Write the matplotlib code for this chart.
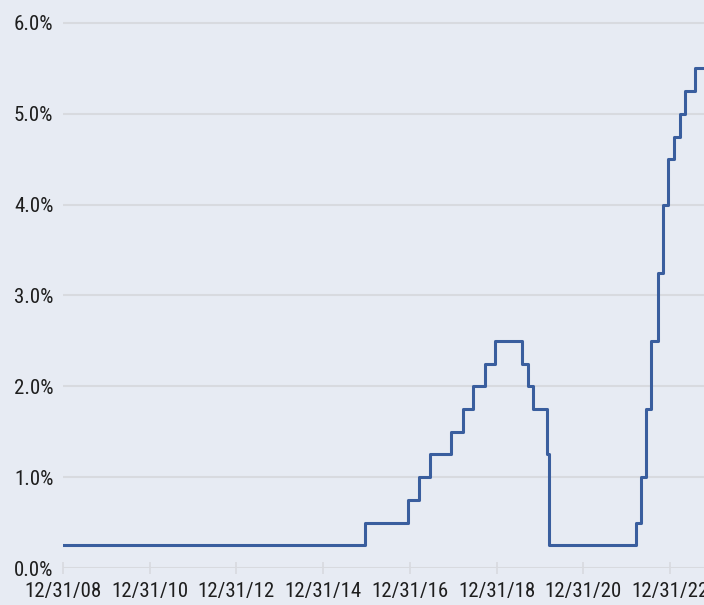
import matplotlib
matplotlib.use('Agg')
import matplotlib.pyplot as plt
import matplotlib.ticker as mticker
import pandas as pd

# Fed funds target (upper bound) changes
change_dates = ['2008-12-31', '2015-12-16', '2016-12-14', '2017-03-15', '2017-06-14',
                '2017-12-13', '2018-03-21', '2018-06-13', '2018-09-26', '2018-12-19',
                '2019-07-31', '2019-09-18', '2019-10-30', '2020-03-03', '2020-03-15',
                '2022-03-16', '2022-05-04', '2022-06-15', '2022-07-27', '2022-09-21',
                '2022-11-02', '2022-12-14', '2023-02-01', '2023-03-22', '2023-05-03',
                '2023-07-26', '2023-10-31']
rates = [0.25, 0.50, 0.75, 1.00, 1.25, 1.50, 1.75, 2.00, 2.25, 2.50,
         2.25, 2.00, 1.75, 1.25, 0.25, 0.50, 1.00, 1.75, 2.50, 3.25,
         4.00, 4.50, 4.75, 5.00, 5.25, 5.50, 5.50]

tick_dates = ['2008-12-31', '2010-12-31', '2012-12-31', '2014-12-31',
              '2016-12-31', '2018-12-31', '2020-12-31', '2022-12-31']
tick_labels = ['12/31/08', '12/31/10', '12/31/12', '12/31/14',
               '12/31/16', '12/31/18', '12/31/20', '12/31/22']
y_ticks = [0, 1, 2, 3, 4, 5, 6]

bg = '#e7ebf3'
grid_col = '#d8dadf'
plt.rcParams['font.family'] = ['Roboto Condensed', 'DejaVu Sans']

fig = plt.figure(figsize=(7.04, 6.05), dpi=100, facecolor=bg)
ax = fig.add_axes([63 / 704, 37 / 605, 1 - 63 / 704, 1 - 37 / 605])
ax.set_facecolor(bg)

x = pd.to_datetime(change_dates)
ax.step(x, rates, where='post', color='#3a5e9e', lw=2.2, zorder=3)

ax.set_xlim(pd.Timestamp('2008-12-31'), pd.Timestamp('2023-10-13'))
ax.set_ylim(0, 6.253)

ax.set_xticks(pd.to_datetime(tick_dates))
ax.set_xticklabels(tick_labels)
ax.set_yticks(y_ticks)
ax.yaxis.set_major_formatter(mticker.FuncFormatter(lambda v, p: f'{v:.1f}%'))

ax.grid(axis='y', color=grid_col, lw=1.5, zorder=1)
for s in ax.spines.values():
    s.set_visible(False)

ax.tick_params(axis='x', direction='inout', length=8.6, width=1.2, color=grid_col,
               labelsize=15, labelcolor='#1e1e1e', pad=5.5)
ax.tick_params(axis='y', length=0, labelsize=15, labelcolor='#1e1e1e', pad=7)

fig.savefig('out.png', dpi=100, facecolor=bg)
